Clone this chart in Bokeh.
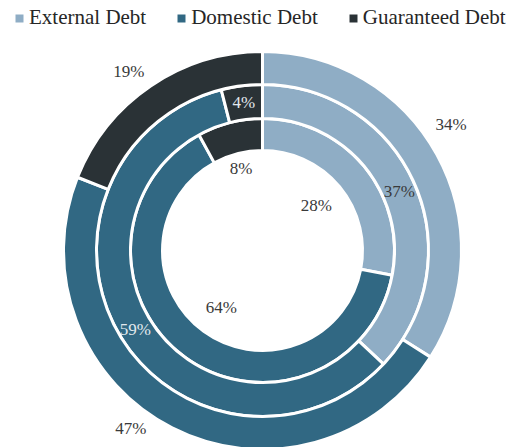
import numpy as np
from bokeh.plotting import figure
from bokeh.models import Range1d, ColumnDataSource, Legend, LegendItem
from bokeh.core.properties import value
from bokeh.embed import file_html
from bokeh.resources import INLINE

# ---- data ----
categories = ["External Debt", "Domestic Debt", "Guaranteed Debt"]
inner_ring = [28, 64, 8]
middle_ring = [37, 59, 4]
outer_ring = [34, 47, 19]

# ---- style ----
colors = ["#8FADC5", "#316883", "#2A3236"]
FONT = "Liberation Serif"
DARK_TXT = "#3a3a3a"
LIGHT_TXT = "#e2e8ed"

W, H = 511, 447
cx, cy = 262, H - 250

p = figure(width=W, height=H, x_range=Range1d(0, W), y_range=Range1d(0, H),
           output_backend="svg", toolbar_location=None, min_border=0)
p.axis.visible = False
p.grid.visible = False
p.outline_line_color = None
p.background_fill_color = "white"

rings = [
    dict(vals=inner_ring, r0=100, r1=132, lr=70,
         nudge=[(0, 0), (0, 0), (-4, 14)], txt=[DARK_TXT, DARK_TXT, DARK_TXT]),
    dict(vals=middle_ring, r0=132, r1=166, lr=149,
         nudge=[(0, 0), (1, -3), (0, 0)], txt=[DARK_TXT, LIGHT_TXT, LIGHT_TXT]),
    dict(vals=outer_ring, r0=166, r1=199, lr=222,
         nudge=[(-6, 19), (-31, 20), (-9, -5)], txt=[DARK_TXT, DARK_TXT, DARK_TXT]),
]

for ring in rings:
    vals = np.array(ring["vals"], dtype=float)
    frac = vals / vals.sum()
    cum_end = np.cumsum(frac)
    cum_start = cum_end - frac
    start = np.pi / 2 - 2 * np.pi * cum_start
    end = np.pi / 2 - 2 * np.pi * cum_end
    src = ColumnDataSource(dict(start=start, end=end, color=colors,
                                cat=categories))
    p.annular_wedge(x=cx, y=cy, inner_radius=ring["r0"], outer_radius=ring["r1"],
                    start_angle="start", end_angle="end", direction="clock",
                    fill_color="color", line_color="white", line_width=3,
                    source=src)
    mid = 2 * np.pi * (cum_start + frac / 2)
    lx = cx + ring["lr"] * np.sin(mid) + np.array([n[0] for n in ring["nudge"]])
    ly = cy + ring["lr"] * np.cos(mid) + np.array([n[1] for n in ring["nudge"]])
    lsrc = ColumnDataSource(dict(x=lx, y=ly,
                                 text=[f"{int(v)}%" for v in ring["vals"]],
                                 color=ring["txt"]))
    p.text(x="x", y="y", text="text", source=lsrc, text_color="color",
           text_font=value(FONT), text_font_size="17px",
           text_align="center", text_baseline="middle")

items = []
for c, col in zip(categories, colors):
    r = p.quad(left=[np.nan], right=[np.nan], top=[np.nan], bottom=[np.nan],
               fill_color=col, line_color=None)
    items.append(LegendItem(label=c, renderers=[r]))

legend = Legend(items=items, orientation="horizontal", location=(14, H - 30),
                glyph_width=10, glyph_height=10, label_standoff=5, spacing=30,
                padding=0, margin=0, border_line_color=None,
                background_fill_alpha=0, label_text_font=FONT,
                label_text_font_size="21px", label_text_color="#262626",
                label_height=20)
p.add_layout(legend)

open("out.html", "w").write(file_html(p, INLINE))
